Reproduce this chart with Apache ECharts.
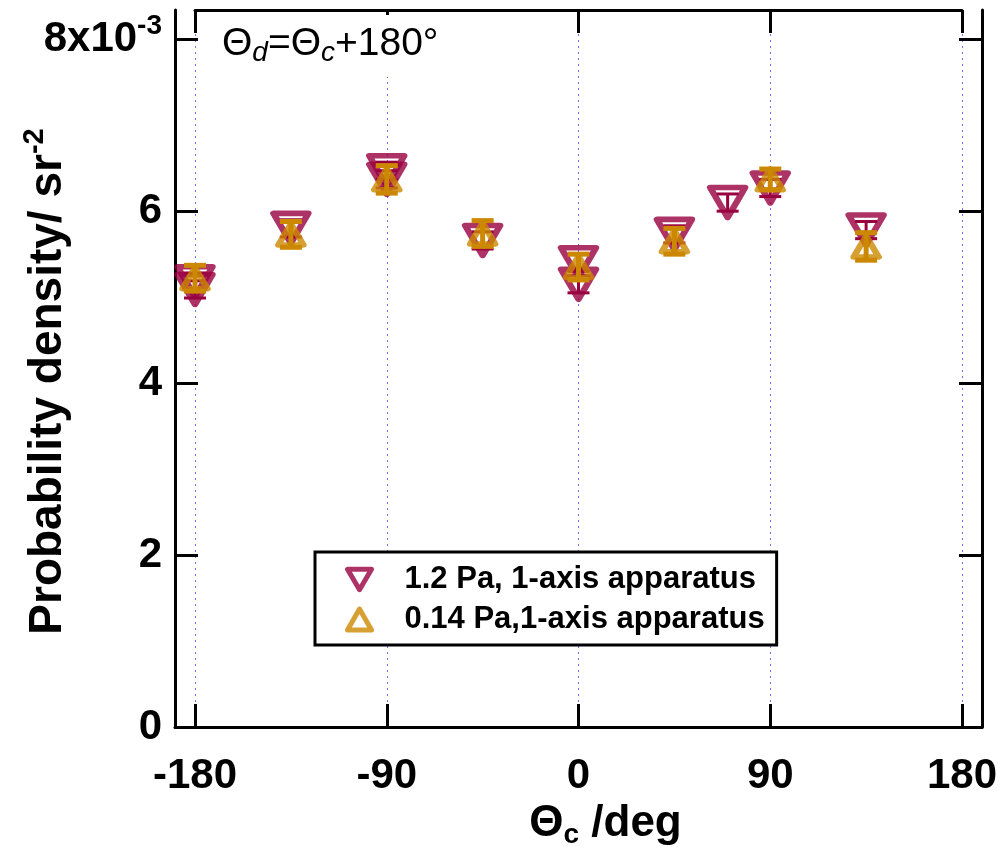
<!DOCTYPE html>
<html>
<head>
<meta charset="utf-8">
<script src="https://cdn.jsdelivr.net/npm/echarts@6/dist/echarts.min.js"></script>
<style>
  html, body { margin: 0; padding: 0; background: #fff; }
  #chart { width: 1001px; height: 847px; }
</style>
</head>
<body>
<div id="chart"></div>
<script>
// Angular distribution of the probability density, Θd = Θc + 180°
// densities in units of 1e-3 sr^-2
const xTicks = [-180, -90, 0, 90, 180];
const yTicks = [0, 2, 4, 6, 8];

const name12 = '1.2 Pa, 1-axis apparatus';
const angles12 = [-180, -180, -135, -90, -90, -45, 0, 0, 45, 70, 90, 135];
const density12 = [5.18, 5.09, 5.80, 6.47, 6.37, 5.66, 5.40, 5.15, 5.73, 6.10, 6.27, 5.78];
const error12 = [0.10, 0.10, 0.10, 0.10, 0.10, 0.10, 0.10, 0.10, 0.10, 0.10, 0.10, 0.10];

const name014 = '0.14 Pa,1-axis apparatus';
const angles014 = [-180, -135, -90, -45, 0, 45, 90, 135];
const density014 = [5.22, 5.73, 6.37, 5.74, 5.35, 5.65, 6.37, 5.59];
const error014 = [0.15, 0.15, 0.16, 0.15, 0.15, 0.15, 0.12, 0.16];

const RED = '#990040';
const GOLD = '#cc8800';
const SANS = '"Liberation Sans", Arial, Helvetica, sans-serif';
const DOWN_TRIANGLE = 'path://M0,0 L20,0 L10,17 Z';

function errorBars(angles, vals, errs) {
  return angles.map((a, i) => [a, vals[i] - errs[i], vals[i] + errs[i]]);
}
function points(angles, vals) {
  return angles.map((a, i) => [a, vals[i]]);
}
function errorRenderer(color, width, half) {
  return function (params, api) {
    const x = api.value(0);
    const lo = api.coord([x, api.value(1)]);
    const hi = api.coord([x, api.value(2)]);
    const style = { stroke: color, lineWidth: width };
    return {
      type: 'group',
      children: [
        { type: 'line', shape: { x1: lo[0], y1: lo[1], x2: hi[0], y2: hi[1] }, style },
        { type: 'line', shape: { x1: lo[0] - half, y1: lo[1], x2: lo[0] + half, y2: lo[1] }, style },
        { type: 'line', shape: { x1: hi[0] - half, y1: hi[1], x2: hi[0] + half, y2: hi[1] }, style }
      ]
    };
  };
}

const axisLineStyle = { color: '#000', width: 3 };
const tickStyle = { color: '#000', width: 3 };

const chart = echarts.init(document.getElementById('chart'), null, { renderer: 'canvas' });

chart.setOption({
  animation: false,
  backgroundColor: '#fff',
  grid: [
    { left: 175, right: 19, top: 10, bottom: 120, containLabel: false, outerBoundsMode: 'none' },
    { left: 195, right: 39, top: 10, bottom: 120, containLabel: false, outerBoundsMode: 'none' }
  ],
  xAxis: [
    {
      gridIndex: 0, type: 'value', position: 'bottom',
      min: -189.4, max: 189.4,
      axisLine: { onZero: false, lineStyle: axisLineStyle },
      axisTick: { show: true, inside: true, length: 23, customValues: xTicks, lineStyle: tickStyle },
      axisLabel: {
        customValues: xTicks, color: '#000', fontSize: 42, fontWeight: 'bold',
        fontFamily: SANS, margin: 28
      },
      splitLine: { show: false },
      name: '{t|Θ}{s|c}{t| /deg}',
      nameLocation: 'middle', nameGap: 72, nameMoveOverlap: false,
      nameTextStyle: {
        padding: [0, 0, 0, 54],
        rich: {
          t: { fontSize: 44, fontWeight: 'bold', fontFamily: SANS, color: '#000' },
          s: { fontSize: 28, fontWeight: 'bold', fontFamily: SANS, color: '#000', padding: [22, 0, 0, 0] }
        }
      }
    },
    {
      gridIndex: 1, type: 'value', position: 'top',
      min: -180, max: 180, interval: 90,
      axisLine: { onZero: false, lineStyle: axisLineStyle },
      axisTick: { show: true, inside: true, length: 23, lineStyle: tickStyle },
      axisLabel: { show: false },
      splitLine: { show: true, lineStyle: { color: '#7070ff', width: 1, type: [2, 4] } }
    }
  ],
  yAxis: [
    {
      gridIndex: 0, type: 'value', position: 'left',
      min: 0, max: 8.34,
      axisLine: { onZero: false, lineStyle: axisLineStyle },
      axisTick: { show: true, inside: true, length: 23, customValues: yTicks, lineStyle: tickStyle },
      axisLabel: {
        customValues: yTicks, margin: 13,
        formatter: v => (v === 8 ? '{b|8x10}{sup|-3}' : '{b|' + v + '}'),
        rich: {
          b: { fontSize: 42, fontWeight: 'bold', fontFamily: SANS, color: '#000' },
          sup: { fontSize: 28, fontWeight: 'bold', fontFamily: SANS, color: '#000', padding: [0, 0, 26, 0] }
        }
      },
      splitLine: { show: false },
      name: '{t|Probability density/ sr}{p|-2}',
      nameLocation: 'middle', nameGap: 99, nameMoveOverlap: false,
      nameTextStyle: {
        padding: [0, 26, 0, 0],
        rich: {
          t: { fontSize: 46, fontWeight: 'bold', fontFamily: SANS, color: '#000' },
          p: { fontSize: 29, fontWeight: 'bold', fontFamily: SANS, color: '#000', padding: [0, 0, 27, 0] }
        }
      }
    },
    {
      gridIndex: 0, type: 'value', position: 'right',
      min: 0, max: 8.34,
      axisLine: { onZero: false, lineStyle: axisLineStyle },
      axisTick: { show: true, inside: true, length: 23, customValues: yTicks, lineStyle: tickStyle },
      axisLabel: { show: false },
      splitLine: { show: false }
    },
    { gridIndex: 1, type: 'value', min: 0, max: 8.34, show: false }
  ],
  legend: {
    data: [
      {
        name: name12, icon: DOWN_TRIANGLE,
        itemStyle: { color: 'rgba(0,0,0,0)', borderColor: RED, borderWidth: 5, borderJoin: 'round' }
      },
      {
        name: name014, icon: 'triangle',
        itemStyle: { color: 'rgba(0,0,0,0)', borderColor: GOLD, borderWidth: 5, borderJoin: 'round' }
      }
    ],
    orient: 'vertical', left: 315, top: 552,
    backgroundColor: '#fff', borderColor: '#000', borderWidth: 3,
    padding: [12, 12, 10, 30],
    itemWidth: 24, itemHeight: 21, itemGap: 9,
    textStyle: { fontSize: 31, fontWeight: 'bold', fontFamily: SANS, color: '#000', padding: [0, 0, 0, 28] }
  },
  graphic: [
    { type: 'rect', z: 50, shape: { x: 205, y: 15, width: 255, height: 62 }, style: { fill: '#fff' } },
    {
      type: 'text', z: 51, x: 222, y: 22,
      style: {
        text: '{t|Θ}{s|d}{t|=Θ}{s|c}{t|+180°}',
        rich: {
          t: { fontSize: 39, fontFamily: SANS, fill: '#000' },
          s: { fontSize: 28, fontFamily: SANS, fontStyle: 'italic', fill: '#000', padding: [17, 0, 0, 0] }
        }
      }
    }
  ],
  series: [
    {
      type: 'custom', name: 'err12', xAxisIndex: 1, yAxisIndex: 2, z: 3,
      data: errorBars(angles12, density12, error12),
      encode: { x: 0, y: [1, 2] },
      renderItem: errorRenderer(RED, 3, 11)
    },
    {
      type: 'scatter', name: name12, xAxisIndex: 1, yAxisIndex: 2, z: 4, clip: false,
      data: points(angles12, density12),
      symbol: 'triangle', symbolRotate: 180, symbolSize: [35, 30],
      itemStyle: { color: 'rgba(0,0,0,0)', borderColor: RED, borderWidth: 6, borderJoin: 'round' }
    },
    {
      type: 'custom', name: 'err014', xAxisIndex: 1, yAxisIndex: 2, z: 5,
      data: errorBars(angles014, density014, error014),
      encode: { x: 0, y: [1, 2] },
      renderItem: errorRenderer(GOLD, 5, 11)
    },
    {
      type: 'scatter', name: name014, xAxisIndex: 1, yAxisIndex: 2, z: 6, clip: false,
      data: points(angles014, density014),
      symbol: 'triangle', symbolSize: [25, 21],
      itemStyle: { color: 'rgba(0,0,0,0)', borderColor: GOLD, borderWidth: 6, borderJoin: 'round' }
    }
  ]
});
</script>
</body>
</html>
